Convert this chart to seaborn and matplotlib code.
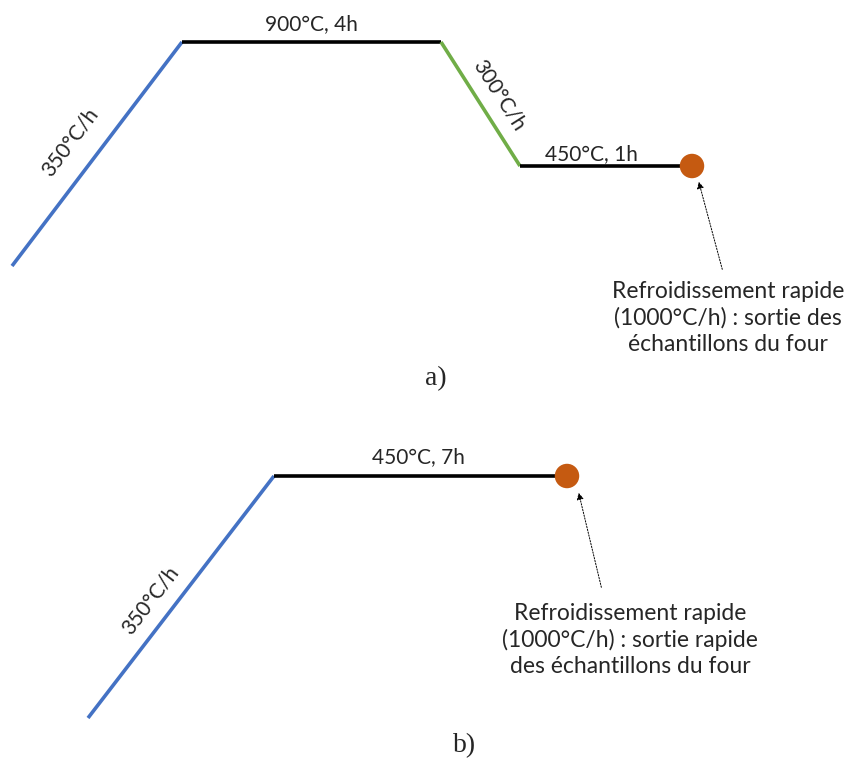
import numpy as np
import pandas as pd
import seaborn as sns
import matplotlib.pyplot as plt

# profile a) : heating, hold, cooling, hold (positions, px)
a_x = [12, 182, 441, 520, 690]
a_y = [266, 42, 42, 166, 166]
a_seg = ['350°C/h', '900°C, 4h', '300°C/h', '450°C, 1h']

# profile b) : heating, hold
b_x = [88, 274, 565]
b_y = [718, 476, 476]
b_seg = ['350°C/h', '450°C, 7h']

seg_colors = {'ramp_up': '#4472C4', 'hold': '#000000', 'ramp_down': '#70AD47'}
a_kind = ['ramp_up', 'hold', 'ramp_down', 'hold']
b_kind = ['ramp_up', 'hold']

quench_a = "Refroidissement rapide\n(1000°C/h) : sortie des\néchantillons du four"
quench_b = "Refroidissement rapide\n(1000°C/h) : sortie rapide\ndes échantillons du four"

sns.set_theme(style="white")
plt.rcParams['font.family'] = ['Lato', 'DejaVu Sans']

fig = plt.figure(figsize=(8.48, 7.65), dpi=100)
ax = fig.add_axes([0, 0, 1, 1])


def draw_profile(xs, ys, kinds):
    rows = []
    for i, k in enumerate(kinds):
        rows.append({'x': xs[i], 'y': ys[i], 'seg': i, 'kind': k})
        rows.append({'x': xs[i + 1], 'y': ys[i + 1], 'seg': i, 'kind': k})
    df = pd.DataFrame(rows)
    for s, d in df.groupby('seg'):
        sns.lineplot(data=d, x='x', y='y', ax=ax, sort=False,
                     color=seg_colors[d['kind'].iloc[0]], linewidth=2.6,
                     legend=False, solid_capstyle='butt')
    sns.scatterplot(x=[xs[-1] + 2], y=[ys[-1]], ax=ax, s=310,
                    color='#C55A11', edgecolor='none', zorder=5, legend=False)


draw_profile(a_x, a_y, a_kind)
draw_profile(b_x, b_y, b_kind)

fs = 15
fq = 16.5
# a) labels
ax.text(70, 142, a_seg[0], rotation=53, ha='center', va='center', fontsize=fs)
ax.text(311, 24, a_seg[1], ha='center', va='center', fontsize=fs)
ax.text(499, 95, a_seg[2], rotation=-57.5, ha='center', va='center', fontsize=fs)
ax.text(591, 154, a_seg[3], ha='center', va='center', fontsize=fs)
ax.annotate('', xy=(698, 179), xytext=(723, 272),
            arrowprops=dict(arrowstyle='-|>', linestyle=(0, (1.5, 1.5)), lw=0.7,
                            color='black', mutation_scale=10))
ax.text(728, 318, quench_a, ha='center', va='center', fontsize=fq,
        linespacing=1.3)
ax.text(436, 379, 'a)', ha='center', va='center', fontsize=20,
        family='Liberation Serif')

# b) labels
ax.text(150, 600, b_seg[0], rotation=52.5, ha='center', va='center', fontsize=fs)
ax.text(418, 457, b_seg[1], ha='center', va='center', fontsize=fs)
ax.annotate('', xy=(578, 490), xytext=(602, 590),
            arrowprops=dict(arrowstyle='-|>', linestyle=(0, (1.5, 1.5)), lw=0.7,
                            color='black', mutation_scale=10))
ax.text(630, 640, quench_b, ha='center', va='center', fontsize=fq,
        linespacing=1.3)
ax.text(465, 746, 'b)', ha='center', va='center', fontsize=20,
        family='Liberation Serif')

ax.set_xlim(0, 848)
ax.set_ylim(765, 0)
ax.set_axis_off()

plt.savefig('out.png', dpi=100)
